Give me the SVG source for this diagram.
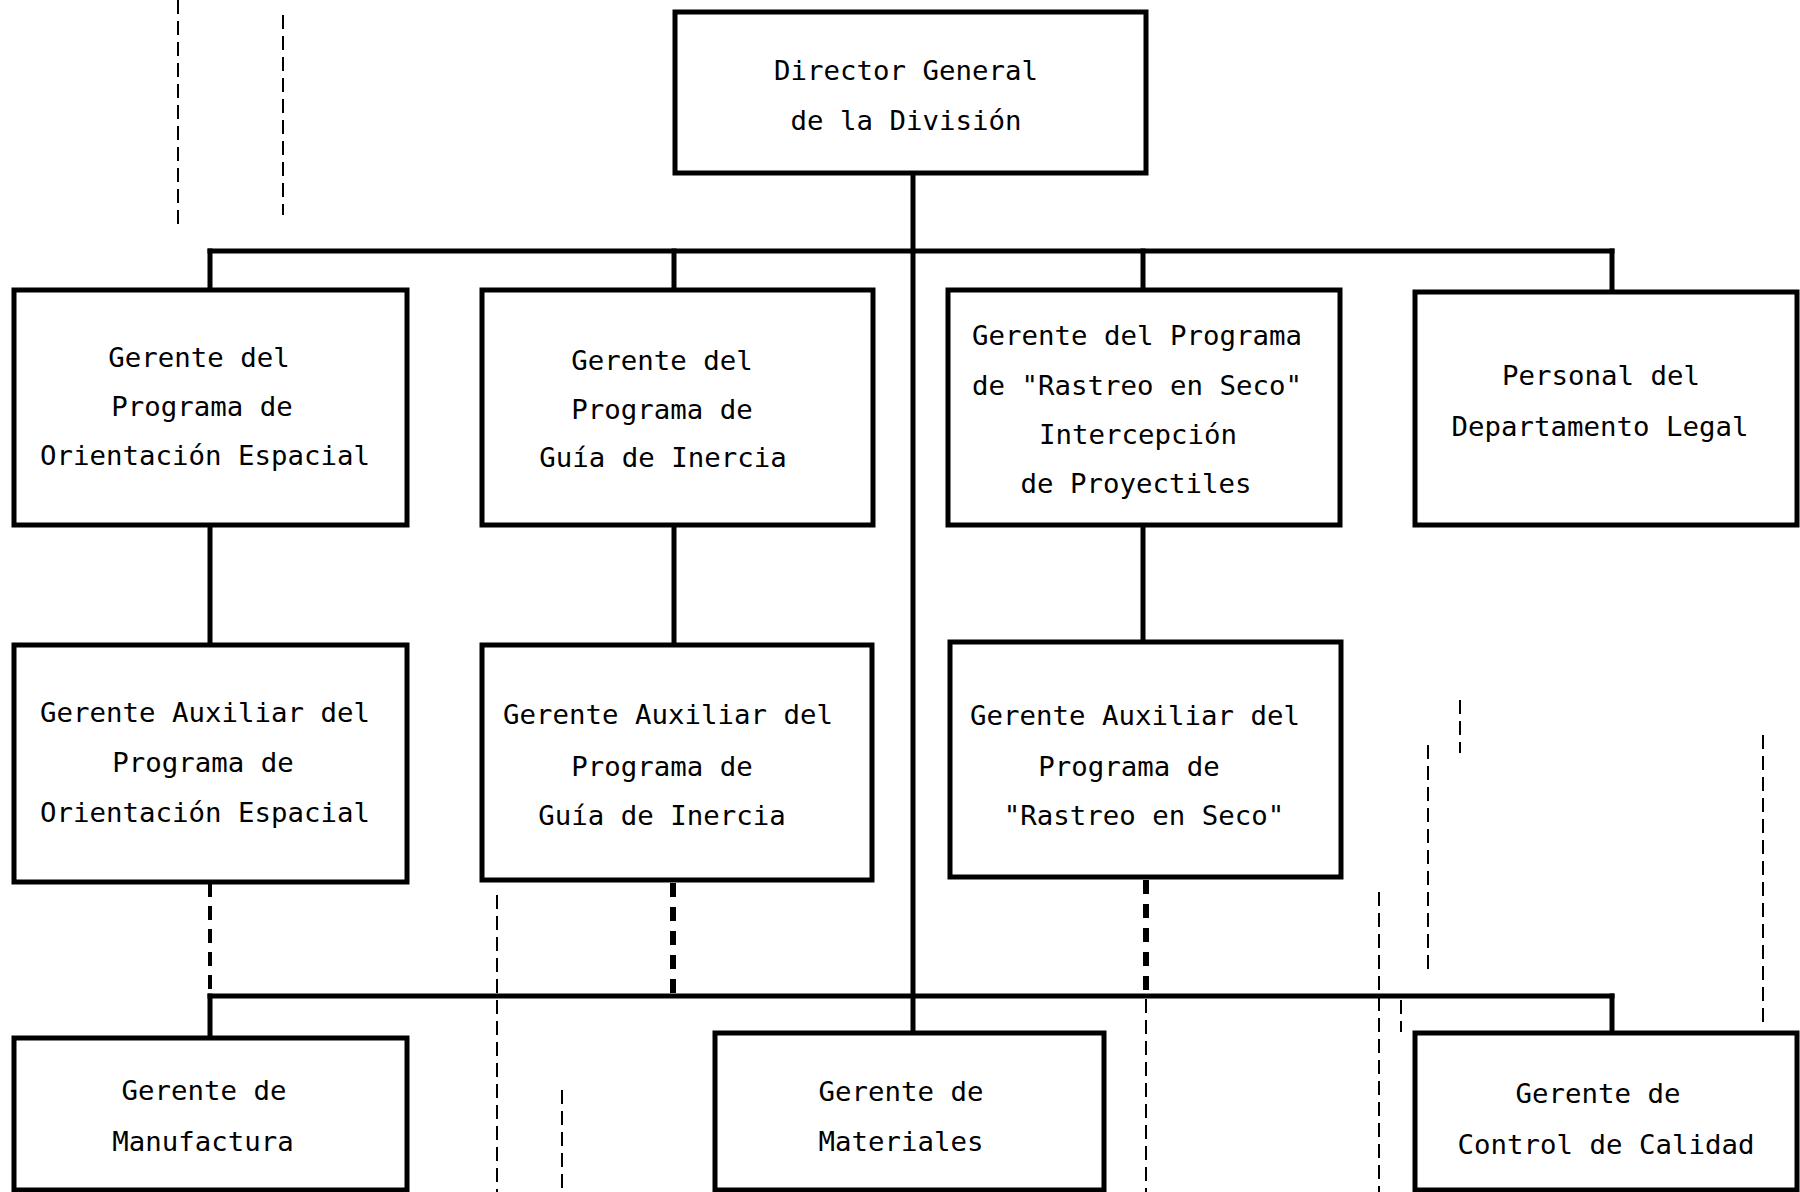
<svg xmlns="http://www.w3.org/2000/svg" width="1800" height="1192" viewBox="0 0 1800 1192">
<style>
  .box { fill: #ffffff; stroke: #000000; stroke-width: 5; }
  .t { font-family: "DejaVu Sans Mono", "Liberation Mono", monospace; font-size: 27.4px; fill: #000000; text-anchor: middle; }
  .solid { stroke: #000000; stroke-width: 5; fill: none; stroke-linecap: square; }
  .dash { stroke: #000000; stroke-width: 6; fill: none; stroke-dasharray: 14 10; }
  .dashthin { stroke: #000000; stroke-width: 4; fill: none; stroke-dasharray: 14 9; }
  .faint { stroke: #000000; stroke-width: 2; fill: none; stroke-dasharray: 14 7; }
</style>
<rect x="0" y="0" width="1800" height="1192" fill="#ffffff"/>

<g id="scan-marks">
  <line class="faint" x1="178" y1="0" x2="178" y2="224" stroke-dasharray="40 5"/>
  <line class="faint" x1="283" y1="15" x2="283" y2="215" stroke-dasharray="6 14"/>
  <line class="faint" x1="497" y1="895" x2="497" y2="1192"/>
  <line class="faint" x1="562" y1="1090" x2="562" y2="1192"/>
  <line class="faint" x1="1146" y1="999" x2="1146" y2="1192" stroke-dasharray="10 10"/>
  <line class="faint" x1="1379" y1="892" x2="1379" y2="1192"/>
  <line class="faint" x1="1401" y1="1000" x2="1401" y2="1032" stroke-dasharray="8 6"/>
  <line class="faint" x1="1428" y1="745" x2="1428" y2="975"/>
  <line class="faint" x1="1460" y1="700" x2="1460" y2="753" stroke-dasharray="8 8"/>
  <line class="faint" x1="1763" y1="735" x2="1763" y2="1022"/>
</g>

<g id="connectors">
  <line class="solid" x1="913" y1="173" x2="913" y2="1033"/>
  <line class="solid" x1="210" y1="251" x2="1612" y2="251"/>
  <line class="solid" x1="210" y1="251" x2="210" y2="290"/>
  <line class="solid" x1="674" y1="251" x2="674" y2="290"/>
  <line class="solid" x1="1143" y1="251" x2="1143" y2="290"/>
  <line class="solid" x1="1612" y1="251" x2="1612" y2="292"/>
  <line class="solid" x1="210" y1="525" x2="210" y2="645"/>
  <line class="solid" x1="674" y1="525" x2="674" y2="645"/>
  <line class="solid" x1="1143" y1="525" x2="1143" y2="642"/>
  <line class="dashthin" x1="210" y1="883" x2="210" y2="996"/>
  <line class="dash" x1="673" y1="883" x2="673" y2="996"/>
  <line class="dash" x1="1146" y1="880" x2="1146" y2="996"/>
  <line class="solid" x1="210" y1="996" x2="1612" y2="996"/>
  <line class="solid" x1="210" y1="996" x2="210" y2="1038"/>
  <line class="solid" x1="1612" y1="996" x2="1612" y2="1033"/>
</g>

<g id="director">
  <rect class="box" x="675" y="12" width="471" height="161"/>
  <text class="t" x="906" y="80">Director General</text>
  <text class="t" x="906" y="130">de la División</text>
</g>

<g id="gerente-orientacion">
  <rect class="box" x="14" y="290" width="393" height="235"/>
  <text class="t" x="199" y="367">Gerente del</text>
  <text class="t" x="202" y="416">Programa de</text>
  <text class="t" x="205" y="465">Orientación Espacial</text>
</g>

<g id="gerente-guia">
  <rect class="box" x="482" y="290" width="391" height="235"/>
  <text class="t" x="662" y="370">Gerente del</text>
  <text class="t" x="662" y="419">Programa de</text>
  <text class="t" x="663" y="467">Guía de Inercia</text>
</g>

<g id="gerente-rastreo">
  <rect class="box" x="948" y="290" width="392" height="235"/>
  <text class="t" x="1137" y="345">Gerente del Programa</text>
  <text class="t" x="1137" y="395">de "Rastreo en Seco"</text>
  <text class="t" x="1138" y="444">Intercepción</text>
  <text class="t" x="1136" y="493">de Proyectiles</text>
</g>

<g id="personal-legal">
  <rect class="box" x="1415" y="292" width="382" height="233"/>
  <text class="t" x="1601" y="385">Personal del</text>
  <text class="t" x="1600" y="436">Departamento Legal</text>
</g>

<g id="auxiliar-orientacion">
  <rect class="box" x="14" y="645" width="393" height="237"/>
  <text class="t" x="205" y="722">Gerente Auxiliar del</text>
  <text class="t" x="203" y="772">Programa de</text>
  <text class="t" x="205" y="822">Orientación Espacial</text>
</g>

<g id="auxiliar-guia">
  <rect class="box" x="482" y="645" width="390" height="235"/>
  <text class="t" x="668" y="724">Gerente Auxiliar del</text>
  <text class="t" x="662" y="776">Programa de</text>
  <text class="t" x="662" y="825">Guía de Inercia</text>
</g>

<g id="auxiliar-rastreo">
  <rect class="box" x="950" y="642" width="391" height="235"/>
  <text class="t" x="1135" y="725">Gerente Auxiliar del</text>
  <text class="t" x="1129" y="776">Programa de</text>
  <text class="t" x="1144" y="825">"Rastreo en Seco"</text>
</g>

<g id="gerente-manufactura">
  <rect class="box" x="14" y="1038" width="393" height="152"/>
  <text class="t" x="204" y="1100">Gerente de</text>
  <text class="t" x="203" y="1151">Manufactura</text>
</g>

<g id="gerente-materiales">
  <rect class="box" x="715" y="1033" width="389" height="157"/>
  <text class="t" x="901" y="1101">Gerente de</text>
  <text class="t" x="901" y="1151">Materiales</text>
</g>

<g id="gerente-calidad">
  <rect class="box" x="1415" y="1033" width="382" height="157"/>
  <text class="t" x="1598" y="1103">Gerente de</text>
  <text class="t" x="1606" y="1154">Control de Calidad</text>
</g>
</svg>
